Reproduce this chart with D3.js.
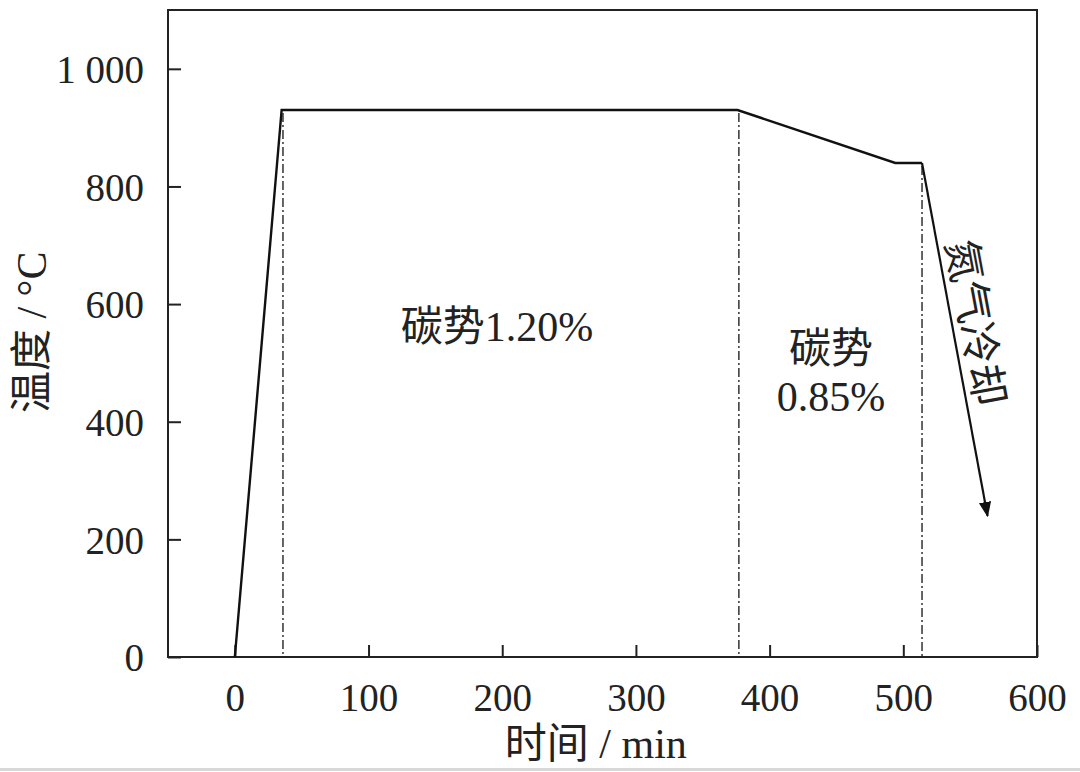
<!DOCTYPE html>
<html>
<head>
<meta charset="utf-8">
<script src="https://cdn.jsdelivr.net/npm/d3@7"></script>
<style>
  body { margin: 0; background: #fff; }
  svg { display: block; }
  text { fill: #222; }
</style>
</head>
<body>
<script>
/* data */
const timeMin = [0, 35, 376, 494, 514];      // process line, minutes
const tempC = [0, 930, 930, 840, 840];       // process line, °C
const coolEnd = [563, 240];                  // end of the gas-cooling arrow
const phaseBreaks = [36, 377, 514];          // dash-dot separators
const breakTemps = [930, 930, 840];
const xTicks = [0, 100, 200, 300, 400, 500, 600];
const yTicks = [0, 200, 400, 600, 800, 1000];

const W = 1080, H = 772;
const margin = { top: 10, right: 43, bottom: 115, left: 168 };
const width = W - margin.left - margin.right,
      height = H - margin.top - margin.bottom;

const latin = '"Liberation Serif", "Noto Sans CJK SC", serif';

const svg = d3.select('body').append('svg')
  .attr('width', W)
  .attr('height', H);

// faint bottom edge of the original image
svg.append('line')
  .attr('x1', 0).attr('x2', W)
  .attr('y1', H - 2.5).attr('y2', H - 2.5)
  .style('stroke', '#d8d8d8').style('stroke-width', 3);

const g = svg.append('g')
  .attr('transform', 'translate(' + margin.left + ',' + margin.top + ')');

/* scales */
const x = d3.scaleLinear().domain([-50, 600]).range([0, width]);
const y = d3.scaleLinear().domain([0, 1100]).range([height, 0]);

/* axes, ticks pointing inwards */
const xAxis = d3.axisBottom(x).tickValues(xTicks)
  .tickSizeInner(-12).tickSizeOuter(0).tickPadding(26);
const yAxis = d3.axisLeft(y).tickValues(yTicks)
  .tickSizeInner(-13).tickSizeOuter(0).tickPadding(24)
  .tickFormat(d => d3.format(',')(d).replace(',', ' '));

const gx = g.append('g')
  .attr('transform', 'translate(0,' + height + ')')
  .call(xAxis);
const gy = g.append('g').call(yAxis);

[gx, gy].forEach(a => {
  a.select('.domain').remove();
  a.selectAll('line').style('stroke', '#222').style('stroke-width', 2);
  a.selectAll('text')
    .style('font-family', '"Liberation Serif", serif')
    .style('font-size', '39px')
    .style('fill', '#222');
});
gx.selectAll('text').attr('dy', '0.71em');
gy.selectAll('text').attr('dy', '0.35em');

/* frame */
g.append('rect')
  .attr('width', width).attr('height', height)
  .style('fill', 'none').style('stroke', '#222').style('stroke-width', 2);

/* dash-dot phase separators */
g.selectAll('.sep')
  .data(phaseBreaks)
  .enter().append('line')
  .attr('class', 'sep')
  .attr('x1', d => x(d)).attr('x2', d => x(d))
  .attr('y1', (d, i) => y(breakTemps[i]) + 3)
  .attr('y2', y(0))
  .style('stroke', '#333')
  .style('stroke-width', 1.5)
  .style('stroke-dasharray', '9,3,2,3');

/* process line */
const line = d3.line().x(d => x(d[0])).y(d => y(d[1]));
const pts = timeMin.map((t, i) => [t, tempC[i]]);
g.append('path')
  .datum(pts)
  .attr('d', line)
  .style('fill', 'none')
  .style('stroke', '#111')
  .style('stroke-width', 2.4)
  .style('stroke-linejoin', 'miter');

/* cooling arrow */
svg.append('defs').append('marker')
  .attr('id', 'arrow')
  .attr('viewBox', '0 0 10 10')
  .attr('refX', 9).attr('refY', 5)
  .attr('markerWidth', 7).attr('markerHeight', 7)
  .attr('markerUnits', 'strokeWidth')
  .attr('orient', 'auto')
  .append('path')
  .attr('d', 'M0,1 L10,5 L0,9 Z')
  .style('fill', '#111');

const last = pts[pts.length - 1];
g.append('line')
  .attr('x1', x(last[0])).attr('y1', y(last[1]))
  .attr('x2', x(coolEnd[0])).attr('y2', y(coolEnd[1]))
  .style('stroke', '#111')
  .style('stroke-width', 2.2)
  .attr('marker-end', 'url(#arrow)');

/* annotations */
const ang = Math.atan2(y(coolEnd[1]) - y(last[1]), x(coolEnd[0]) - x(last[0])) * 180 / Math.PI;

g.append('text')
  .attr('x', x(196)).attr('y', y(538))
  .attr('text-anchor', 'middle')
  .style('font-family', latin).style('font-size', '42px')
  .text('碳势1.20%');

g.append('text')
  .attr('x', x(446)).attr('y', y(500))
  .attr('text-anchor', 'middle')
  .style('font-family', latin).style('font-size', '42px')
  .text('碳势');

g.append('text')
  .attr('x', x(446)).attr('y', y(418))
  .attr('text-anchor', 'middle')
  .style('font-family', latin).style('font-size', '42px')
  .text('0.85%');

g.append('text')
  .attr('transform', 'translate(' + (x(557) - 4) + ',' + (y(565) - 2) + ') rotate(' + ang + ')')
  .attr('text-anchor', 'middle')
  .attr('dy', '0.35em')
  .style('font-family', latin).style('font-size', '42px')
  .text('氮气冷却');

/* axis titles */
svg.append('text')
  .attr('x', margin.left + x(270)).attr('y', 758)
  .attr('text-anchor', 'middle')
  .style('font-family', latin).style('font-size', '42px')
  .text('时间 / min');

svg.append('text')
  .attr('transform', 'translate(46,' + (margin.top + y(552)) + ') rotate(-90)')
  .attr('text-anchor', 'middle')
  .style('font-family', latin).style('font-size', '42px')
  .text('温度 / °C');
</script>
</body>
</html>
